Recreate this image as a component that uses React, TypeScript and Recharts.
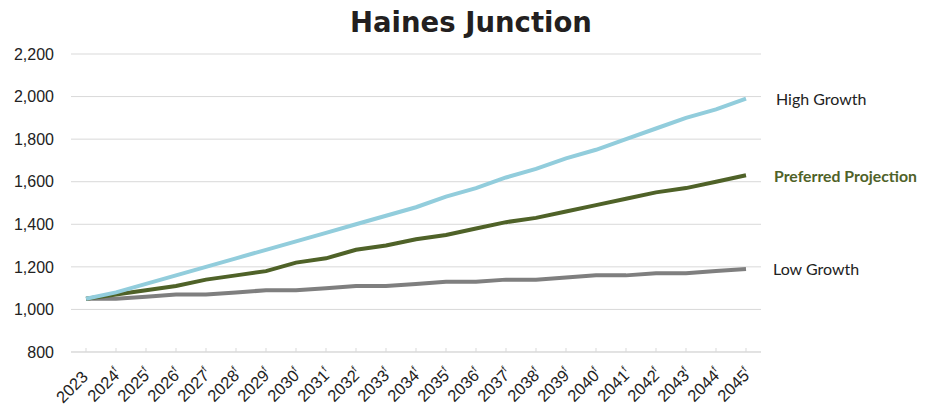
import React from "react";
import { LineChart, Line, XAxis, YAxis, CartesianGrid } from "recharts";

const years = ["2023","2024","2025","2026","2027","2028","2029","2030","2031","2032","2033","2034","2035","2036","2037","2038","2039","2040","2041","2042","2043","2044","2045"];
const highGrowth = [1050,1080,1120,1160,1200,1240,1280,1320,1360,1400,1440,1480,1530,1570,1620,1660,1710,1750,1800,1850,1900,1940,1990];
const preferred = [1050,1070,1090,1110,1140,1160,1180,1220,1240,1280,1300,1330,1350,1380,1410,1430,1460,1490,1520,1550,1570,1600,1630];
const lowGrowth = [1050,1050,1060,1070,1070,1080,1090,1090,1100,1110,1110,1120,1130,1130,1140,1140,1150,1160,1160,1170,1170,1180,1190];
const yTicks = [800,1000,1200,1400,1600,1800,2000,2200];
const seriesNames = ["High Growth","Preferred Projection","Low Growth"];

const data = years.map((y, i) => ({
  year: y,
  high: highGrowth[i],
  pref: preferred[i],
  low: lowGrowth[i],
}));

const LAST = years.length - 1;

const XTick = (props: any) => {
  const { x, y, payload, index } = props;
  const yr = payload.value as string;
  const forecast = index !== 0;
  const ex = forecast ? x + 6 : x + 3;
  const ey = forecast ? y + 23 : y + 26;
  return (
    <g>
      <line x1={x} y1={y} x2={x} y2={y - 4} stroke="#D9D9D9" strokeWidth={1} />
      <text
        x={ex}
        y={ey}
        textAnchor="end"
        transform={`rotate(-45, ${ex}, ${ey})`}
        fontFamily="Liberation Sans, Arial, sans-serif"
        fontSize={16.5}
        fill="#222"
      >
        {yr}
        {forecast ? (
          <tspan fontSize={9.5} dy={-7}>f</tspan>
        ) : null}
      </text>
    </g>
  );
};

const makeEndLabel = (name: string, color: string, bold: boolean, dx: number, size: number) => (props: any) => {
  const { x, y, index } = props;
  if (index !== LAST) return <g />;
  return (
    <text
      x={x + dx}
      y={y}
      dominantBaseline="central"
      fontFamily="Lato, 'Open Sans', sans-serif"
      fontSize={size}
      fontWeight={bold ? 700 : 400}
      fill={color}
    >
      {name}
    </text>
  );
};

export default function App() {
  return (
    <div style={{ position: "relative", width: 920, height: 401 }}>
      <div
        style={{
          position: "absolute",
          left: 463,
          top: 0,
          transform: "translateX(-50%)",
          fontFamily: "'DejaVu Sans', sans-serif",
          fontWeight: 700,
          fontSize: 27.5,
          lineHeight: "28px",
          color: "#231F20",
          whiteSpace: "nowrap",
        }}
      >
        Haines Junction
      </div>
      <LineChart
        width={920}
        height={401}
        data={data}
        margin={{ top: 46, right: 167, bottom: 0, left: 0 }}
      >
        <CartesianGrid vertical={false} stroke="#D9D9D9" strokeWidth={1} />
        <XAxis
          dataKey="year"
          padding={{ left: 15, right: 15 }}
          height={57}
          axisLine={{ stroke: "#D9D9D9" }}
          tickLine={false}
          tickSize={0}
          tickMargin={0}
          interval={0}
          tick={<XTick />}
        />
        <YAxis
          domain={[800, 2200]}
          ticks={yTicks}
          width={63}
          axisLine={false}
          tickLine={false}
          tickSize={0}
          tickMargin={17}
          tickFormatter={(v: number) => v.toLocaleString("en-US")}
          tick={{ fontFamily: "Liberation Sans, Arial, sans-serif", fontSize: 16, fill: "#222" }}
        />
        <Line
          dataKey="low"
          stroke="#7F7F7F"
          strokeWidth={4}
          dot={false}
          isAnimationActive={false}
          label={makeEndLabel(seriesNames[2], "#222", false, 27, 16)}
        />
        <Line
          dataKey="pref"
          stroke="#4F6228"
          strokeWidth={4}
          dot={false}
          isAnimationActive={false}
          label={makeEndLabel(seriesNames[1], "#4F6228", true, 28, 15.8)}
        />
        <Line
          dataKey="high"
          stroke="#92CDDC"
          strokeWidth={4}
          dot={false}
          isAnimationActive={false}
          label={makeEndLabel(seriesNames[0], "#222", false, 30, 16)}
        />
      </LineChart>
    </div>
  );
}
